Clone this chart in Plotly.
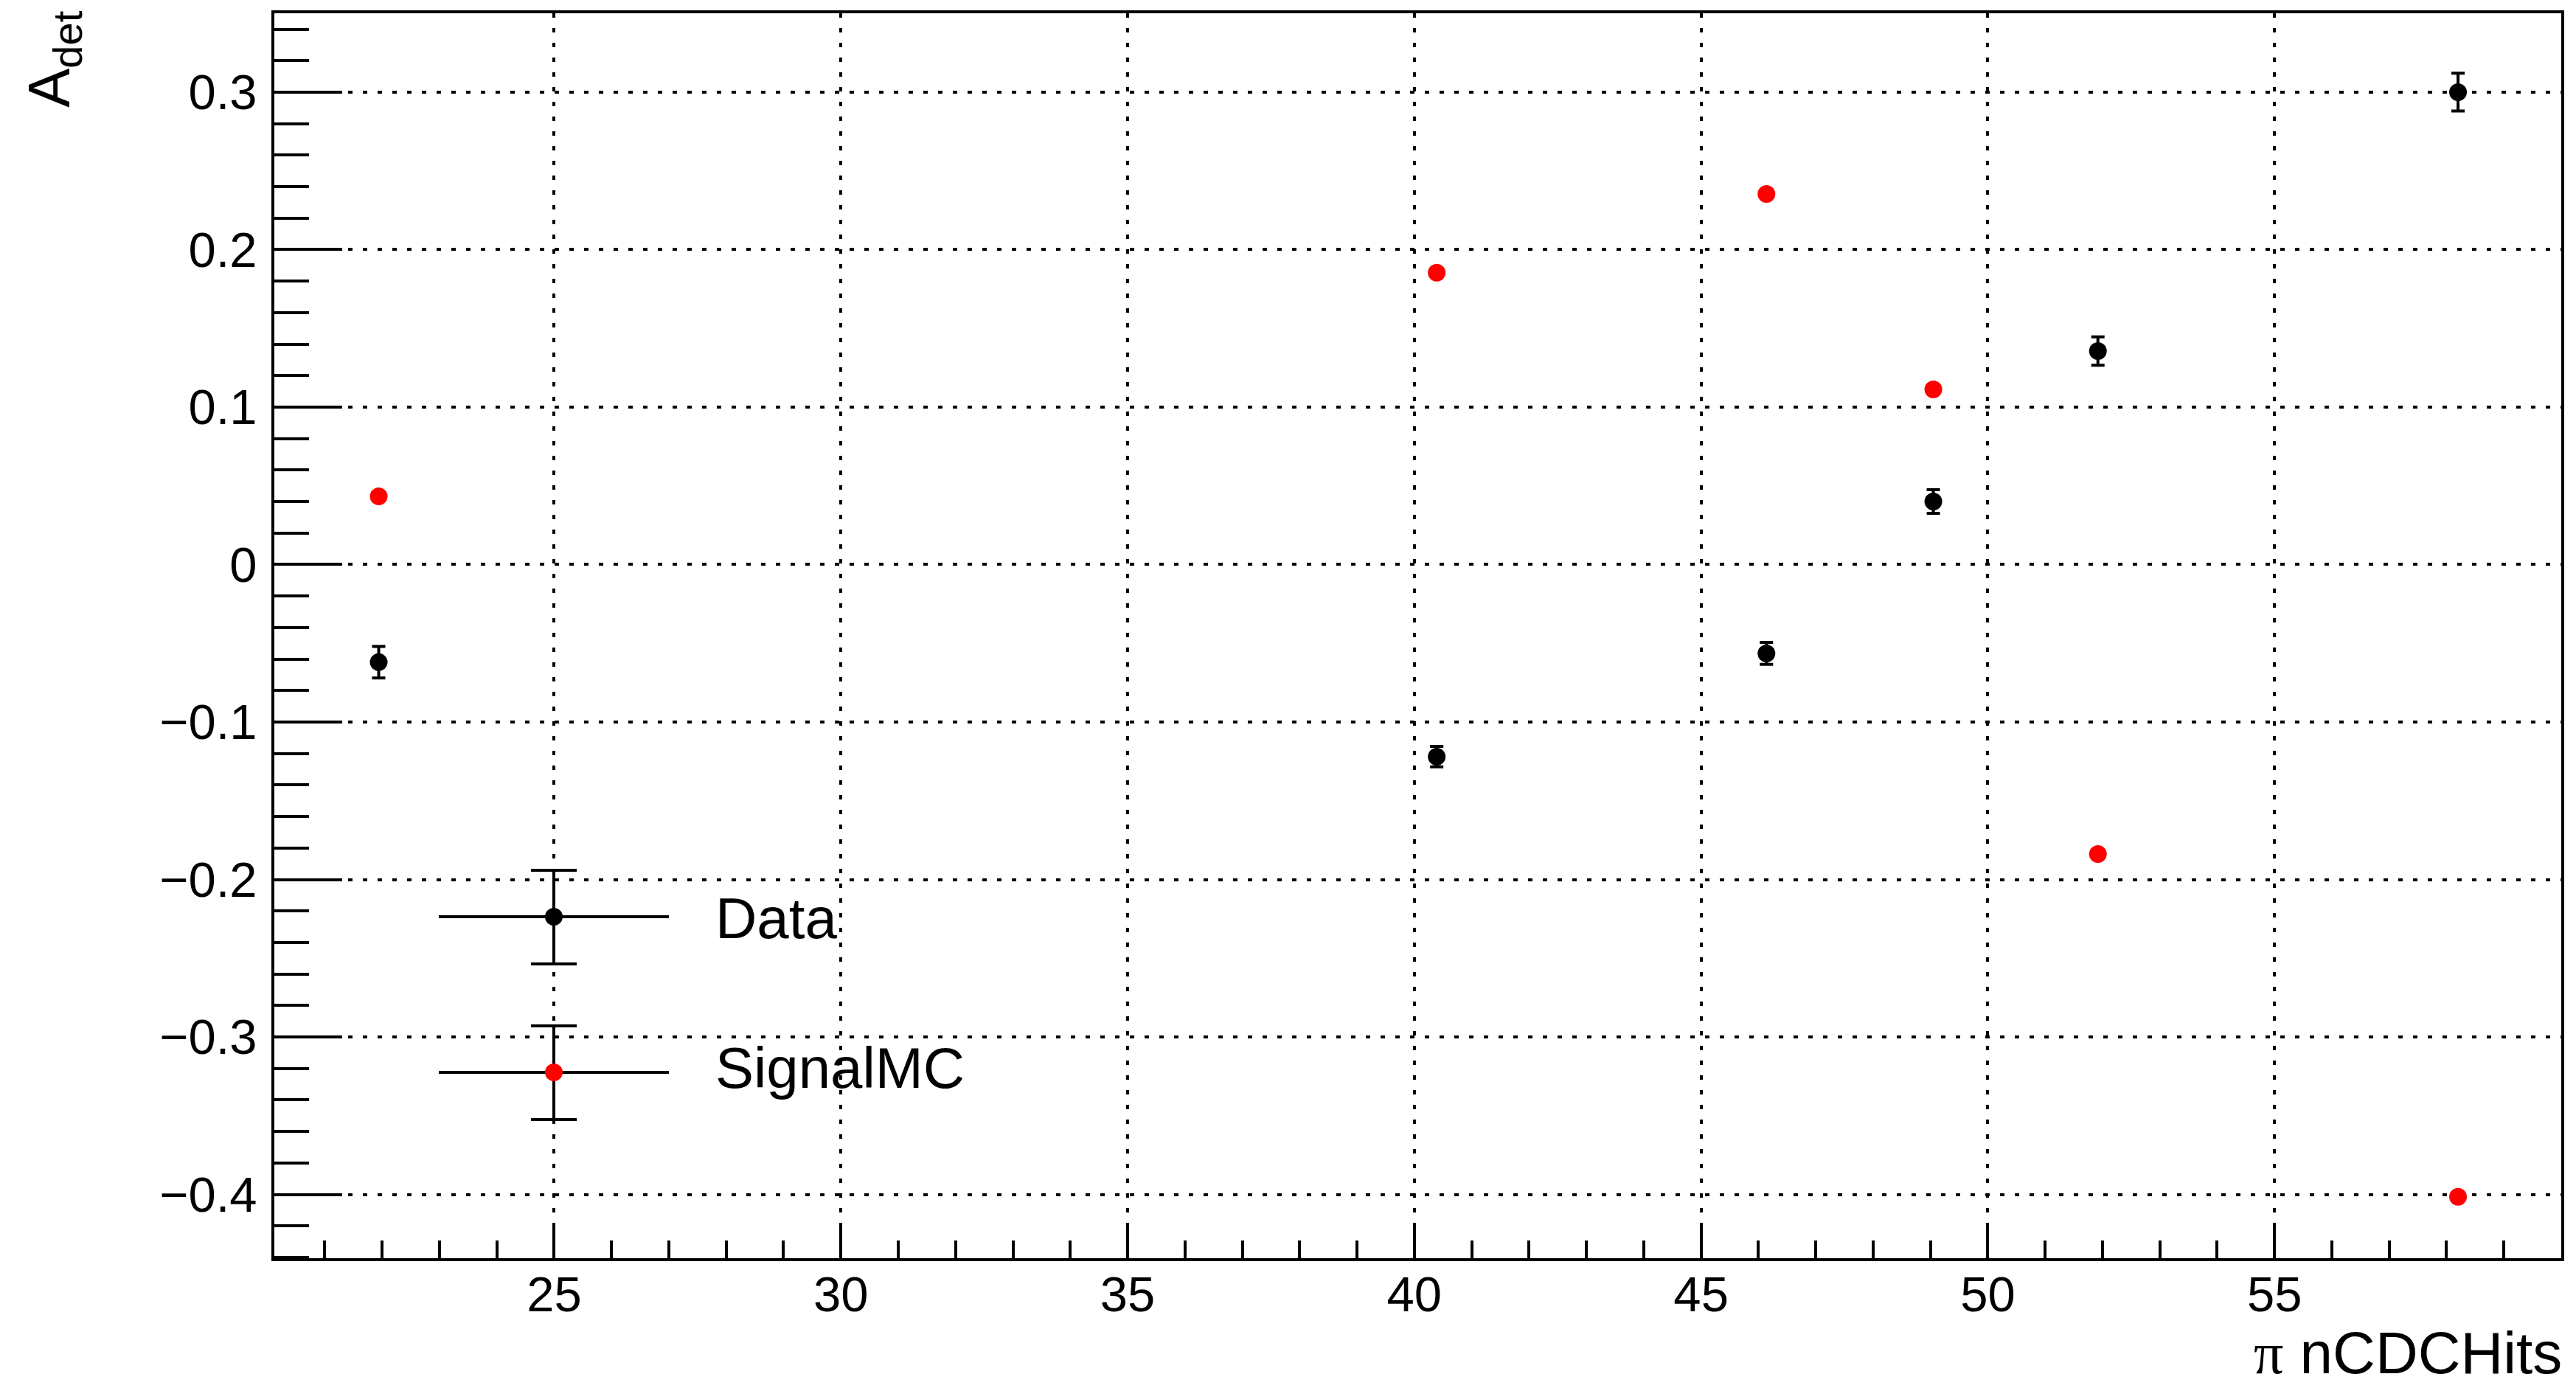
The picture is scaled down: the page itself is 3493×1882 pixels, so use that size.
import plotly.graph_objects as go

# ---- data ----
n_cdc_hits = [21.94, 40.39, 46.14, 49.05, 51.92, 58.20]
data_adet = [-0.062, -0.122, -0.0564, 0.040, 0.1356, 0.300]
data_err = [0.010, 0.0065, 0.007, 0.0075, 0.009, 0.012]
mc_adet = [0.0433, 0.1853, 0.2354, 0.1112, -0.1838, -0.4015]
legend_labels = ["Data", "SignalMC"]
legend_colors = ["black", "#ff0000"]
x_range = [20.12, 60.0]
y_range = [-0.4405, 0.3501]

W, H = 3493, 1882
L, R, T, B = 372, 20, 18, 176
PW, PH = W - L - R, H - T - B

FONT = "Liberation Sans, Arial, Helvetica, sans-serif"


def px_x(p):
    return (p - L) / PW


def px_y(p):
    return (H - B - p) / PH


fig = go.Figure()

fig.add_trace(go.Scatter(
    x=n_cdc_hits, y=data_adet, mode="markers", name="Data",
    marker=dict(color="black", size=24),
    error_y=dict(type="data", array=data_err, visible=True, color="black",
                 thickness=4, width=9),
    showlegend=False,
))
fig.add_trace(go.Scatter(
    x=n_cdc_hits, y=mc_adet, mode="markers", name="SignalMC",
    marker=dict(color="#ff0000", size=24),
    showlegend=False,
))

grid = dict(showgrid=True, gridcolor="black", gridwidth=4, griddash="6px,14px")

fig.update_layout(
    width=W, height=H,
    margin=dict(l=L, r=R, t=T, b=B, autoexpand=False),
    template="none",
    paper_bgcolor="white", plot_bgcolor="white",
    font=dict(family=FONT, color="black", size=67),
    xaxis=dict(
        range=x_range, dtick=5, tick0=0, ticks="inside", ticklen=48,
        tickwidth=4, tickcolor="black", showline=True, linewidth=4,
        linecolor="black", mirror=True, zeroline=False, automargin=False,
        tickfont=dict(size=67, family=FONT), ticklabelstandoff=-12,
        minor=dict(dtick=1, ticks="inside", ticklen=24, tickwidth=4,
                   tickcolor="black", showgrid=False),
        **grid,
    ),
    yaxis=dict(
        range=y_range, dtick=0.1, tick0=0, ticks="inside", ticklen=92,
        tickwidth=4, tickcolor="black", showline=True, linewidth=4,
        linecolor="black", mirror=True, zeroline=False, automargin=False,
        tickfont=dict(size=67, family=FONT), ticklabelstandoff=6,
        minor=dict(dtick=0.02, ticks="inside", ticklen=47, tickwidth=4,
                   tickcolor="black", showgrid=False),
        **grid,
    ),
)

annotations = [
    dict(text="<span style='font-family:Liberation Serif'>π</span> nCDCHits",
         x=px_x(3476), xanchor="right", y=px_y(1835), yanchor="middle",
         xref="paper", yref="paper", showarrow=False,
         font=dict(size=80, family=FONT)),
    dict(text="A<sub>det</sub>", textangle=-90,
         x=px_x(72), xanchor="center", y=px_y(80), yanchor="middle",
         xref="paper", yref="paper", showarrow=False,
         font=dict(size=80, family=FONT)),
]

shapes = []
legend_rows = [1243, 1454]
text_rows = [1245, 1448]
for label, color, row, trow in zip(legend_labels, legend_colors, legend_rows, text_rows):
    yc = px_y(row)
    line = dict(color="black", width=4)
    shapes.append(dict(type="line", xref="paper", yref="paper",
                       x0=px_x(595), x1=px_x(907), y0=yc, y1=yc, line=line))
    shapes.append(dict(type="line", xref="paper", yref="paper",
                       x0=px_x(751), x1=px_x(751), y0=px_y(row - 63),
                       y1=px_y(row + 64), line=line))
    for dy in (-63, 64):
        shapes.append(dict(type="line", xref="paper", yref="paper",
                           x0=px_x(720), x1=px_x(782), y0=px_y(row + dy),
                           y1=px_y(row + dy), line=line))
    shapes.append(dict(type="circle", xref="paper", yref="paper",
                       xsizemode="pixel", ysizemode="pixel",
                       xanchor=px_x(751), yanchor=yc,
                       x0=-12, x1=12, y0=-12, y1=12,
                       fillcolor=color, line=dict(width=0)))
    annotations.append(dict(text=label, x=px_x(968), xanchor="left",
                            y=px_y(trow), yanchor="middle",
                            xref="paper", yref="paper", showarrow=False,
                            font=dict(size=78, family=FONT)))

fig.update_layout(annotations=annotations, shapes=shapes)

fig.write_html("out.html")
